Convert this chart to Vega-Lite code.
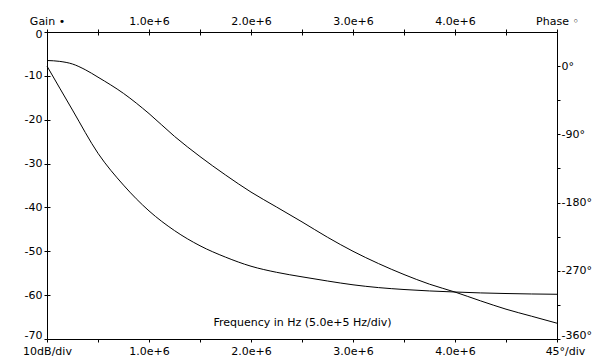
{
  "$schema": "https://vega.github.io/schema/vega-lite/v6.json",
  "width": 510,
  "height": 307,
  "autosize": "none",
  "padding": {"left": 47, "top": 32, "right": 43, "bottom": 21},
  "background": "white",
  "config": {
    "view": {"stroke": null},
    "axis": {
      "labelFont": "DejaVu Sans",
      "labelFontSize": 11,
      "labelColor": "black",
      "titleFont": "DejaVu Sans",
      "titleFontSize": 11,
      "titleFontWeight": "normal",
      "titleColor": "black",
      "domainColor": "black",
      "domainWidth": 1,
      "tickColor": "black",
      "tickWidth": 1,
      "tickSize": 3,
      "grid": true,
      "gridColor": "black",
      "gridOpacity": 1,
      "gridWidth": 1,
      "gridDash": [3, 2000],
      "labelOverlap": false,
      "labelBound": false,
      "labelFlush": false
    }
  },
  "datasets": {
    "gain": [
      {"f": 0, "db": -6.5},
      {"f": 125000, "db": -6.7},
      {"f": 250000, "db": -7.3},
      {"f": 375000, "db": -8.6},
      {"f": 500000, "db": -10.3},
      {"f": 750000, "db": -14.0},
      {"f": 1000000, "db": -18.6},
      {"f": 1250000, "db": -23.8},
      {"f": 1500000, "db": -28.4},
      {"f": 1750000, "db": -32.6},
      {"f": 2000000, "db": -36.5},
      {"f": 2250000, "db": -39.9},
      {"f": 2500000, "db": -43.3},
      {"f": 2750000, "db": -46.8},
      {"f": 3000000, "db": -50.0},
      {"f": 3250000, "db": -52.8},
      {"f": 3500000, "db": -55.3},
      {"f": 3750000, "db": -57.5},
      {"f": 4000000, "db": -59.3},
      {"f": 4250000, "db": -61.3},
      {"f": 4500000, "db": -63.2},
      {"f": 4750000, "db": -64.8},
      {"f": 5000000, "db": -66.4}
    ],
    "phase": [
      {"f": 0, "deg": 0},
      {"f": 250000, "deg": -58},
      {"f": 500000, "deg": -115},
      {"f": 750000, "deg": -157},
      {"f": 1000000, "deg": -191},
      {"f": 1250000, "deg": -217},
      {"f": 1500000, "deg": -237},
      {"f": 1750000, "deg": -252},
      {"f": 2000000, "deg": -264},
      {"f": 2250000, "deg": -272},
      {"f": 2500000, "deg": -278},
      {"f": 2750000, "deg": -283.5},
      {"f": 3000000, "deg": -288.5},
      {"f": 3250000, "deg": -292.2},
      {"f": 3500000, "deg": -294.7},
      {"f": 3750000, "deg": -296.6},
      {"f": 4000000, "deg": -298},
      {"f": 4250000, "deg": -299.2},
      {"f": 4500000, "deg": -300},
      {"f": 4750000, "deg": -300.6},
      {"f": 5000000, "deg": -301}
    ]
  },
  "layer": [
    {
      "data": {"name": "gain"},
      "mark": {"type": "line", "color": "black", "strokeWidth": 1, "interpolate": "monotone"},
      "encoding": {
        "x": {
          "field": "f",
          "type": "quantitative",
          "scale": {"domain": [0, 5000000], "nice": false, "zero": false},
          "axis": {
            "orient": "bottom",
            "values": [0, 500000, 1000000, 1500000, 2000000, 2500000, 3000000, 3500000, 4000000, 4500000, 5000000],
            "labelExpr": "datum.value == 0 ? '10dB/div' : datum.value == 5000000 ? '45°/div' : (datum.value % 1000000 == 0 ? format(datum.value / 1000000, '.1f') + 'e+6' : '')",
            "labelOffset": {"condition": {"test": "datum.value == 5000000", "value": 8}, "value": 0},
            "labelPadding": 3,
            "title": "Frequency in Hz (5.0e+5 Hz/div)",
            "titleY": -14,
            "titleBaseline": "alphabetic"
          }
        },
        "y": {
          "field": "db",
          "type": "quantitative",
          "scale": {"domain": [-70, 0], "nice": false, "zero": false},
          "axis": {
            "orient": "left",
            "values": [-70, -60, -50, -40, -30, -20, -10, 0],
            "labelExpr": "'' + datum.value",
            "labelOffset": {"condition": [{"test": "datum.value == -70", "value": -4}, {"test": "datum.value == 0", "value": 2}], "value": 0},
            "labelPadding": 2,
            "title": null
          }
        }
      }
    },
    {
      "data": {"name": "phase"},
      "mark": {"type": "line", "color": "black", "strokeWidth": 1, "interpolate": "monotone"},
      "encoding": {
        "x": {
          "field": "f",
          "type": "quantitative",
          "scale": {"domain": [0, 5000000], "nice": false, "zero": false},
          "axis": {
            "orient": "top",
            "values": [0, 500000, 1000000, 1500000, 2000000, 2500000, 3000000, 3500000, 4000000, 4500000, 5000000],
            "labelExpr": "datum.value == 0 ? 'Gain •' : datum.value == 5000000 ? 'Phase ◦' : (datum.value % 1000000 == 0 ? format(datum.value / 1000000, '.1f') + 'e+6' : '')",
            "labelPadding": 3,
            "title": null
          }
        },
        "y": {
          "field": "deg",
          "type": "quantitative",
          "scale": {"domain": [-360, 45], "nice": false, "zero": false},
          "axis": {
            "orient": "right",
            "values": [-360, -315, -270, -225, -180, -135, -90, -45, 0],
            "labelExpr": "datum.value % 90 == 0 ? datum.value + '°' : ''",
            "labelOffset": {"condition": {"test": "datum.value == -360", "value": -4}, "value": 0},
            "labelPadding": 1,
            "title": null
          }
        }
      }
    }
  ],
  "resolve": {
    "scale": {"y": "independent"},
    "axis": {"x": "independent", "y": "independent"}
  }
}
